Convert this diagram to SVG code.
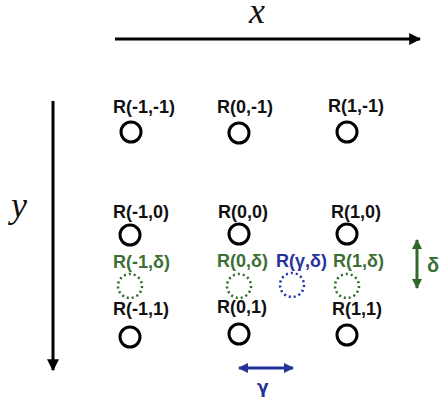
<svg xmlns="http://www.w3.org/2000/svg" width="439" height="402" viewBox="0 0 439 402">
<style>
.lbl{font-family:"Liberation Sans",Arial,sans-serif;font-size:18px;font-weight:bold;fill:#111}
.g{fill:#3d6e34}
.b{fill:#24339a}
.ax{font-family:"Liberation Serif","Times New Roman",serif;font-style:italic;font-size:36px;fill:#111}
.node{fill:none;stroke:#000;stroke-width:3}
.dg{fill:none;stroke:#2f6a2a;stroke-width:2.5;stroke-dasharray:2 3}
.db{fill:none;stroke:#1f30a8;stroke-width:2.5;stroke-dasharray:2 3}
</style>
<defs>
<marker id="ak" viewBox="0 0 10 10" refX="9" refY="5" markerWidth="4" markerHeight="4" orient="auto-start-reverse"><path d="M0,0 L10,5 L0,10 z" fill="#000"/></marker>
<marker id="ab" viewBox="0 0 10 10" refX="9" refY="5" markerWidth="3.5" markerHeight="3.5" orient="auto-start-reverse"><path d="M0,0 L10,5 L0,10 z" fill="#24339a"/></marker>
<marker id="ag" viewBox="0 0 10 10" refX="9" refY="5" markerWidth="3.5" markerHeight="3.5" orient="auto-start-reverse"><path d="M0,0 L10,5 L0,10 z" fill="#2f6a2a"/></marker>
</defs>
<g id="connectors">
<line x1="115" y1="39" x2="420" y2="39" stroke="#000" stroke-width="3" marker-end="url(#ak)"/>
<line x1="53" y1="101" x2="53" y2="370" stroke="#000" stroke-width="3" marker-end="url(#ak)"/>
<line x1="239" y1="368" x2="293" y2="368" stroke="#24339a" stroke-width="3" marker-start="url(#ab)" marker-end="url(#ab)"/>
<line x1="417" y1="240" x2="417" y2="288" stroke="#2f6a2a" stroke-width="3" marker-start="url(#ag)" marker-end="url(#ag)"/>
</g>
<text class="ax" x="249" y="23">x</text>
<text class="ax" x="11" y="217">y</text>
<text class="lbl b" x="257" y="393" style="font-family:'DejaVu Sans',sans-serif;font-size:17px">γ</text>
<text class="lbl g" x="427" y="272" style="font-size:20px">δ</text>
<g id="n-1-1"><text class="lbl" x="113" y="113">R(-1,-1)</text><circle class="node" cx="131" cy="132" r="10"/></g>
<g id="n0-1"><text class="lbl" x="217" y="113">R(0,-1)</text><circle class="node" cx="239" cy="133" r="10"/></g>
<g id="n1-1"><text class="lbl" x="328" y="112">R(1,-1)</text><circle class="node" cx="347" cy="132" r="10"/></g>
<g id="n-10"><text class="lbl" x="113" y="218">R(-1,0)</text><circle class="node" cx="130" cy="235" r="10"/></g>
<g id="n00"><text class="lbl" x="218" y="218">R(0,0)</text><circle class="node" cx="239" cy="234" r="10"/></g>
<g id="n10"><text class="lbl" x="331" y="218">R(1,0)</text><circle class="node" cx="347" cy="234" r="10"/></g>
<g id="n-1d"><text class="lbl g" x="113" y="268">R(-1,δ)</text><circle class="dg" cx="130" cy="286" r="12"/></g>
<g id="n0d"><text class="lbl g" x="217" y="267">R(0,δ)</text><circle class="dg" cx="239" cy="286" r="12"/></g>
<g id="ngd"><text class="lbl b" x="276" y="267">R(γ,δ)</text><circle class="db" cx="292" cy="285" r="12"/></g>
<g id="n1d"><text class="lbl g" x="333" y="267">R(1,δ)</text><circle class="dg" cx="347" cy="286" r="12"/></g>
<g id="n-11"><text class="lbl" x="113" y="315">R(-1,1)</text><circle class="node" cx="130" cy="337" r="10"/></g>
<g id="n01"><text class="lbl" x="217" y="313">R(0,1)</text><circle class="node" cx="239" cy="334" r="10"/></g>
<g id="n11"><text class="lbl" x="332" y="315">R(1,1)</text><circle class="node" cx="347" cy="335" r="10"/></g>
</svg>
